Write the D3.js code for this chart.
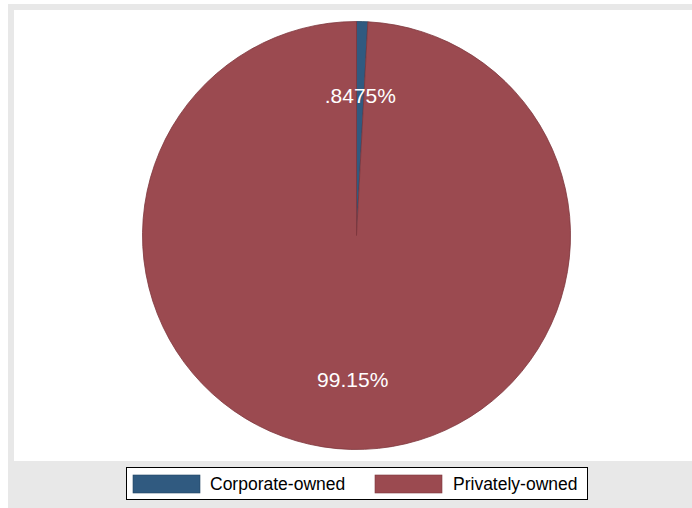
<!DOCTYPE html>
<html><head><meta charset="utf-8">
<script src="https://cdn.jsdelivr.net/npm/d3@7"></script>
<style>html,body{margin:0;padding:0;background:#fff;overflow:hidden;}svg{display:block;}</style>
</head><body>
<svg id="chart" width="692" height="508"></svg>
<script>
const categories = ["Corporate-owned", "Privately-owned"];
const values = [0.8475, 99.15];
const labels = [".8475%", "99.15%"];
const colors = ["#305a80", "#9b4a50"];
const strokes = ["#234563", "#7e363c"];

const svg = d3.select("#chart");
const W = 692, H = 508;
svg.append("rect").attr("x", 8).attr("y", 4).attr("width", W - 8).attr("height", H - 4).attr("fill", "#e8e8e8");
svg.append("rect").attr("x", 14).attr("y", 10).attr("width", W - 14).attr("height", 451).attr("fill", "#ffffff");

const cx = 356.5, cy = 235.5, r = 214;
const data = categories.map((c, i) => ({cat: c, value: values[i], label: labels[i], color: colors[i], stroke: strokes[i]}));
const pie = d3.pie().value(d => d.value).sort(null);
const arcs = pie(data);
const arc = d3.arc().innerRadius(0).outerRadius(r);
const labelArc = d3.arc().innerRadius(142.5).outerRadius(142.5);

const g = svg.append("g").attr("transform", `translate(${cx},${cy})`);
g.selectAll("path.slice").data(arcs).join("path")
  .attr("class", "slice")
  .attr("d", arc)
  .attr("fill", d => d.data.color)
  .attr("stroke", d => d.data.stroke)
  .attr("stroke-width", 0.8)
  .attr("stroke-linejoin", "round");

g.selectAll("text.lbl").data(arcs).join("text")
  .attr("class", "lbl")
  .attr("transform", d => { const c = labelArc.centroid(d); return `translate(${c[0]},${c[1] + 2})`; })
  .attr("text-anchor", "middle")
  .attr("dominant-baseline", "central")
  .attr("fill", "#ffffff")
  .style("font-family", "'Liberation Sans', Arial, sans-serif")
  .style("font-size", "21px")
  .text(d => d.data.label);

// Legend
const lg = svg.append("g");
lg.append("rect").attr("x", 126.5).attr("y", 467.5).attr("width", 461).attr("height", 32)
  .attr("fill", "#fff").attr("stroke", "#000").attr("stroke-width", 1);
const items = [{x: 133, tx: 210}, {x: 375, tx: 453}];
data.forEach((d, i) => {
  lg.append("rect").attr("x", items[i].x).attr("y", 475).attr("width", 67).attr("height", 18)
    .attr("fill", d.color).attr("stroke", d.stroke).attr("stroke-width", 0.6);
  lg.append("text").attr("x", items[i].tx).attr("y", 484).attr("dominant-baseline", "central")
    .style("font-family", "'Liberation Sans', Arial, sans-serif").style("font-size", "17.5px")
    .attr("fill", "#000").text(d.cat);
});
</script>
</body></html>
